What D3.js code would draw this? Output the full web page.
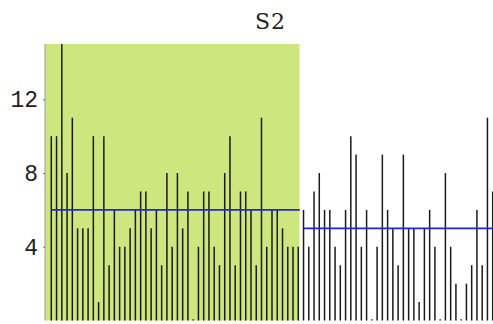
<!DOCTYPE html>
<html>
<head>
<meta charset="utf-8">
<script src="https://cdn.jsdelivr.net/npm/d3@7"></script>
<style>
  html, body { margin: 0; padding: 0; background: #fff; }
  svg { display: block; }
</style>
</head>
<body>
<svg id="chart" width="493" height="324"></svg>
<script>
// ---- data ----
const title = "S2";
const groupA = [10,10,15,8,11,5,5,5,10,1,10,3,6,4,4,5,6,7,7,5,6,3,8,4,8,5,7,0,4,7,7,4,3,8,10,3,7,7,6,3,11,4,6,6,5,4,4,4];
const groupB = [6,4,7,8,6,6,4,3,6,10,9,4,6,0,4,9,6,5,3,9,5,5,1,5,6,4,0,8,4,2,0,2,3,6,3,11,7];
const groupMeans = [6, 5];
const yTicks = [4, 8, 12];
const yDomain = [0, 15];

(function () {
const values = groupA.concat(groupB);
const nA = groupA.length;

const svg = d3.select("#chart");
const W = 493;
const mLeft = 45, mTop = 44, mBottom = 320.5;

const x = d3.scaleLinear().domain([0, 84]).range([51.3, 492.7]);
const y = d3.scaleLinear().domain(yDomain).range([mBottom, mTop]);

// green highlighted region for first group
svg.append("rect")
  .attr("x", mLeft).attr("y", mTop)
  .attr("width", x(nA - 1) + 1.2 - mLeft)
  .attr("height", mBottom - mTop)
  .attr("fill", "#cde67e");

// spikes
svg.append("g").selectAll("line").data(values).join("line")
  .attr("x1", (d, i) => x(i)).attr("x2", (d, i) => x(i))
  .attr("y1", y(0)).attr("y2", d => d === 0 ? y(0) - 1.2 : y(d))
  .attr("stroke", "#1a1a1a").attr("stroke-width", 1.5);

// mean lines
svg.append("line")
  .attr("x1", x(0)).attr("x2", x(nA - 1) + 1.5)
  .attr("y1", y(groupMeans[0])).attr("y2", y(groupMeans[0]))
  .attr("stroke", "#2424d8").attr("stroke-width", 1.6);
svg.append("line")
  .attr("x1", x(nA)).attr("x2", W)
  .attr("y1", y(groupMeans[1])).attr("y2", y(groupMeans[1]))
  .attr("stroke", "#2424d8").attr("stroke-width", 1.6);

// y axis
const yAxis = d3.axisLeft(y).tickValues(yTicks).tickSize(2).tickPadding(5);
const gy = svg.append("g").attr("transform", `translate(${mLeft},0)`).call(yAxis);
gy.select(".domain").attr("stroke", "#999").attr("d", `M0,${mTop}V${mBottom}`);
gy.selectAll(".tick line").attr("stroke", "#777");
gy.selectAll(".tick text")
  .attr("font-family", "'Liberation Mono', monospace")
  .attr("font-size", 23).attr("fill", "#222");

// title
svg.append("text")
  .attr("x", 270.5).attr("y", 28.5)
  .attr("text-anchor", "middle")
  .attr("font-family", "'DejaVu Serif', serif")
  .attr("font-size", 22).attr("letter-spacing", 1).attr("fill", "#222")
  .text(title);
})();
</script>
</body>
</html>
